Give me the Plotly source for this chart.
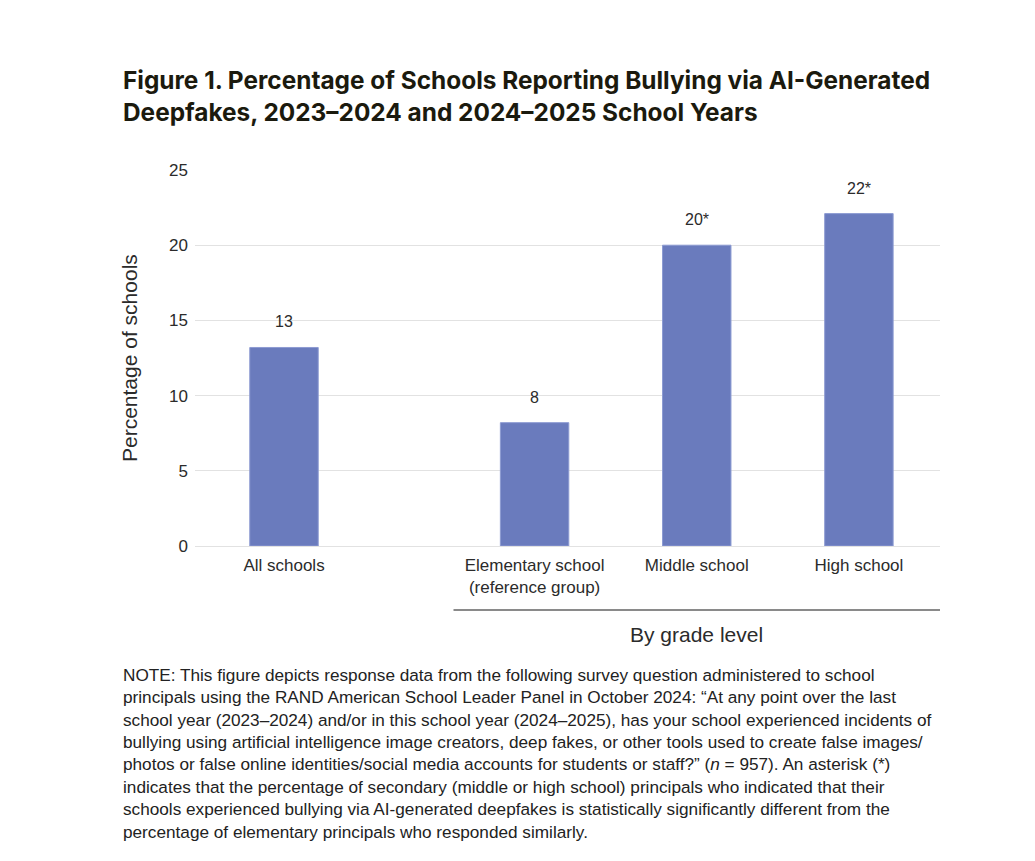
import plotly.graph_objects as go

# ---- data ----
all_categories = ["All schools"]
all_values = [13.2]
all_labels = ["13"]

grade_categories = ["Elementary school<br>(reference group)", "Middle school", "High school"]
grade_values = [8.2, 20.0, 22.1]
grade_labels = ["8", "20*", "22*"]

y_ticks = [0, 5, 10, 15, 20, 25]

title_lines = [
    "Figure 1. Percentage of Schools Reporting Bullying via AI-Generated",
    "Deepfakes, 2023\u20132024 and 2024\u20132025 School Years",
]
note_lines = [
    "NOTE: This figure depicts response data from the following survey question administered to school",
    "principals using the RAND American School Leader Panel in October 2024: \u201cAt any point over the last",
    "school year (2023\u20132024) and/or in this school year (2024\u20132025), has your school experienced incidents of",
    "bullying using artificial intelligence image creators, deep fakes, or other tools used to create false images/",
    "photos or false online identities/social media accounts for students or staff?\u201d (<i>n</i> = 957). An asterisk (*)",
    "indicates that the percentage of secondary (middle or high school) principals who indicated that their",
    "schools experienced bullying via AI-generated deepfakes is statistically significantly different from the",
    "percentage of elementary principals who responded similarly.",
]

# ---- layout geometry (page pixels) ----
OFF = 8                      # page body margin
W, H = 1035 - OFF, 861 - OFF
PX_LEFT, PX_SPLIT, PX_RIGHT = 195, 453.5, 940
PX_ALL_CENTER = 284
PY_TOP, PY_BOTTOM = 170, 546


def fx(px):
    return (px - OFF) / W


def fy(py):
    return 1 - (py - OFF) / H


BAR_COLOR = "#6a7bbd"
BAR_EDGE = "#8d9bd2"
TEXT = "#2b2b2b"
FONT = "Liberation Sans"

fig = go.Figure()
fig.add_trace(go.Bar(x=all_categories, y=all_values, xaxis="x", yaxis="y",
                     marker=dict(color=BAR_COLOR, line=dict(color=BAR_EDGE, width=1)),
                     hoverinfo="skip"))
fig.add_trace(go.Bar(x=grade_categories, y=grade_values, xaxis="x2", yaxis="y2",
                     marker=dict(color=BAR_COLOR, line=dict(color=BAR_EDGE, width=1)),
                     hoverinfo="skip"))

label_font = dict(size=16, color=TEXT, family=FONT)
annotations = []
for c, v, t in zip(all_categories, all_values, all_labels):
    annotations.append(dict(x=c, y=v, xref="x", yref="y", text=t, showarrow=False,
                            xanchor="center", yanchor="bottom", yshift=15, font=label_font))
for c, v, t in zip(grade_categories, grade_values, grade_labels):
    annotations.append(dict(x=c, y=v, xref="x2", yref="y2", text=t, showarrow=False,
                            xanchor="center", yanchor="bottom", yshift=15, font=label_font))

# y-axis title
annotations.append(dict(x=fx(130), y=fy(358), xref="paper", yref="paper",
                        xanchor="center", yanchor="middle",
                        text="Percentage of schools", textangle=-90, showarrow=False,
                        font=dict(size=21, color=TEXT, family=FONT)))
# group label
annotations.append(dict(x=fx((PX_SPLIT + PX_RIGHT) / 2), y=fy(634), xref="paper", yref="paper",
                        xanchor="center", yanchor="middle",
                        text="By grade level", showarrow=False,
                        font=dict(size=21, color=TEXT, family=FONT)))
# title
annotations.append(dict(x=fx(121), y=fy(63), xref="paper", yref="paper", xanchor="left", yanchor="top",
                        text="<br>".join("<b>" + s + "</b>" for s in title_lines),
                        align="left", showarrow=False,
                        font=dict(size=24.4, color="#1b1a0e", family="Inter")))
# note
annotations.append(dict(x=fx(121), y=fy(663), xref="paper", yref="paper", xanchor="left", yanchor="top",
                        text="<br>".join(note_lines), align="left", showarrow=False,
                        font=dict(size=17.2, color="#222222", family=FONT)))

# range for the first axis so both subplots share the same px-per-category scale
unit_px = (PX_RIGHT - PX_SPLIT) / len(grade_categories)
left_units = (PX_ALL_CENTER - PX_LEFT) / unit_px
right_units = (PX_SPLIT - PX_ALL_CENTER) / unit_px

xtick_font = dict(size=17, color=TEXT, family=FONT)
ytick_font = dict(size=17, color=TEXT, family=FONT)
fig.update_layout(
    template="none",
    width=W, height=H, autosize=False,
    margin=dict(l=0, r=0, t=0, b=0, pad=0),
    paper_bgcolor="white", plot_bgcolor="white",
    showlegend=False, bargap=0.578,
    xaxis=dict(domain=[fx(PX_LEFT), fx(PX_SPLIT)], range=[-left_units, right_units],
               showgrid=False, zeroline=False, showline=False, ticks="", tickfont=xtick_font,
               ticklabelstandoff=7, automargin=False, fixedrange=True),
    xaxis2=dict(domain=[fx(PX_SPLIT), fx(PX_RIGHT)], range=[-0.5, len(grade_categories) - 0.5],
                showgrid=False, zeroline=False, showline=False, ticks="", tickfont=xtick_font,
                ticklabelstandoff=7, anchor="y2", automargin=False, fixedrange=True),
    yaxis=dict(domain=[fy(PY_BOTTOM), fy(PY_TOP)], range=[0, 25], tickvals=y_ticks,
               showgrid=True, gridcolor="#e2e2e2", gridwidth=1, zeroline=True,
               zerolinecolor="#e2e2e2", zerolinewidth=1, showline=False, ticks="",
               tickfont=ytick_font, ticklabelstandoff=6, automargin=False, fixedrange=True),
    yaxis2=dict(domain=[fy(PY_BOTTOM), fy(PY_TOP)], range=[0, 25], tickvals=y_ticks,
                showgrid=True, gridcolor="#e2e2e2", gridwidth=1, zeroline=True,
                zerolinecolor="#e2e2e2", zerolinewidth=1, showticklabels=False, ticks="",
                anchor="x2", matches="y", automargin=False, fixedrange=True),
    annotations=annotations,
    shapes=[dict(type="line", xref="paper", yref="paper", x0=fx(PX_SPLIT), x1=fx(PX_RIGHT),
                 y0=fy(610), y1=fy(610), line=dict(color="#8a8a8a", width=2))],
)

fig.write_html("out.html", config={"displayModeBar": False})
